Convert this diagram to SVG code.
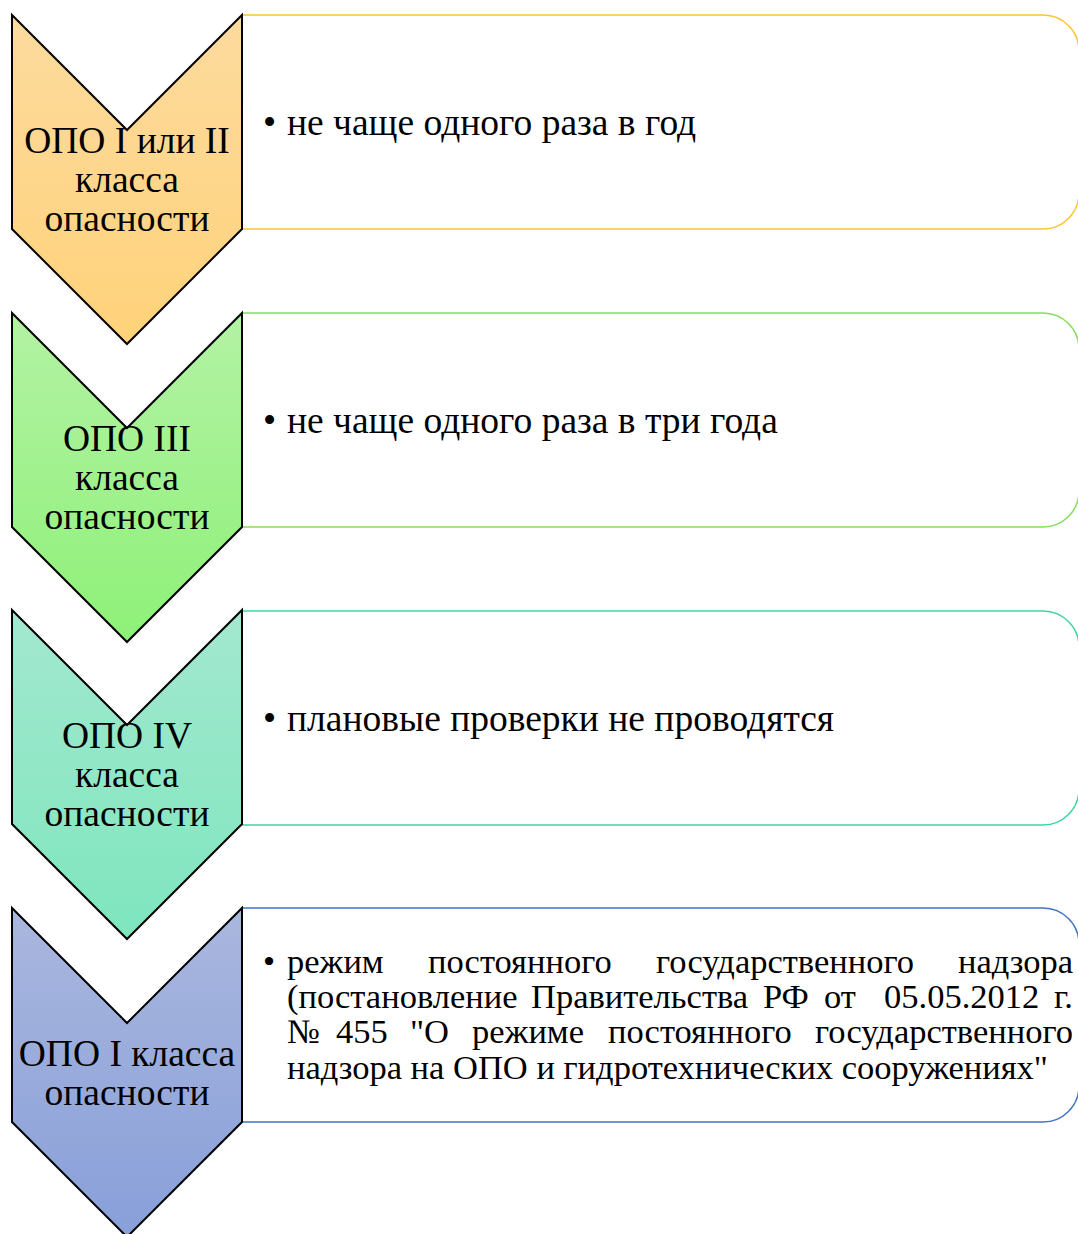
<svg xmlns="http://www.w3.org/2000/svg" width="1078" height="1234" viewBox="0 0 1078 1234">
<defs>
<linearGradient id="g1" x1="0" y1="0" x2="0" y2="1"><stop offset="0" stop-color="#FDDB9E"/><stop offset="1" stop-color="#FFD27A"/></linearGradient>
<linearGradient id="g2" x1="0" y1="0" x2="0" y2="1"><stop offset="0" stop-color="#B3F2A4"/><stop offset="1" stop-color="#8EF178"/></linearGradient>
<linearGradient id="g3" x1="0" y1="0" x2="0" y2="1"><stop offset="0" stop-color="#A3E8CF"/><stop offset="1" stop-color="#7EE6BE"/></linearGradient>
<linearGradient id="g4" x1="0" y1="0" x2="0" y2="1"><stop offset="0" stop-color="#AAB7DE"/><stop offset="1" stop-color="#889FD9"/></linearGradient>
</defs>
<style>
.chev{stroke:#000;stroke-width:2;stroke-linejoin:miter}
.box{fill:#fff;stroke-width:1.5}
.lbl{font-family:"Liberation Serif","Times New Roman",serif;font-size:37.5px;fill:#000;text-anchor:middle}
.txt{font-family:"Liberation Serif","Times New Roman",serif;font-size:37.5px;fill:#000}
.txt4{font-family:"Liberation Serif","Times New Roman",serif;font-size:34.5px;fill:#000}
</style>
<rect width="1078" height="1234" fill="#fff"/>

<g id="row1">
<path class="box" stroke="#FFC52E" d="M242,15 H1043 A36,36 0 0 1 1079,51 V193 A36,36 0 0 1 1043,229 H242 Z"/>
<polygon class="chev" fill="url(#g1)" points="12,15 127,130 242,15 242,229 127,344 12,229"/>
<text class="lbl" x="127" y="153">ОПО I или II</text>
<text class="lbl" x="127" y="192">класса</text>
<text class="lbl" x="127" y="231">опасности</text>
<text class="txt" x="263" y="135">•</text>
<text class="txt" x="287" y="135">не чаще одного раза в год</text>
</g>

<g id="row2">
<path class="box" stroke="#84DE5C" d="M242,313 H1043 A36,36 0 0 1 1079,349 V491 A36,36 0 0 1 1043,527 H242 Z"/>
<polygon class="chev" fill="url(#g2)" points="12,313 127,428 242,313 242,527 127,642 12,527"/>
<text class="lbl" x="127" y="451">ОПО III</text>
<text class="lbl" x="127" y="490">класса</text>
<text class="lbl" x="127" y="529">опасности</text>
<text class="txt" x="263" y="433">•</text>
<text class="txt" x="287" y="433">не чаще одного раза в три года</text>
</g>

<g id="row3">
<path class="box" stroke="#3ED6A2" d="M242,611 H1043 A36,36 0 0 1 1079,647 V789 A36,36 0 0 1 1043,825 H242 Z"/>
<polygon class="chev" fill="url(#g3)" points="12,610 127,725 242,610 242,824 127,939 12,824"/>
<text class="lbl" x="127" y="748">ОПО IV</text>
<text class="lbl" x="127" y="787">класса</text>
<text class="lbl" x="127" y="826">опасности</text>
<text class="txt" x="263" y="731">•</text>
<text class="txt" x="287" y="731">плановые проверки не проводятся</text>
</g>

<g id="row4">
<path class="box" stroke="#4472C4" d="M242,908 H1043 A36,36 0 0 1 1079,944 V1086 A36,36 0 0 1 1043,1122 H242 Z"/>
<polygon class="chev" fill="url(#g4)" points="12,908 127,1023 242,908 242,1122 127,1237 12,1122"/>
<text class="lbl" x="127" y="1066">ОПО I класса</text>
<text class="lbl" x="127" y="1105">опасности</text>
<text class="txt4" x="263" y="973">•</text>
<text class="txt4" y="973"><tspan x="287">режим</tspan><tspan x="428">постоянного</tspan><tspan x="656">государственного</tspan><tspan x="1073" text-anchor="end">надзора</tspan></text>
<text class="txt4" y="1008"><tspan x="287">(постановление</tspan><tspan x="531">Правительства</tspan><tspan x="763">РФ</tspan><tspan x="824">от</tspan><tspan x="884">05.05.2012</tspan><tspan x="1073" text-anchor="end">г.</tspan></text>
<text class="txt4" y="1043"><tspan x="287">№</tspan><tspan x="336">455</tspan><tspan x="410">"О</tspan><tspan x="472">режиме</tspan><tspan x="608">постоянного</tspan><tspan x="1073" text-anchor="end">государственного</tspan></text>
<text class="txt4" x="287" y="1079">надзора на ОПО и гидротехнических сооружениях"</text>
</g>
</svg>
